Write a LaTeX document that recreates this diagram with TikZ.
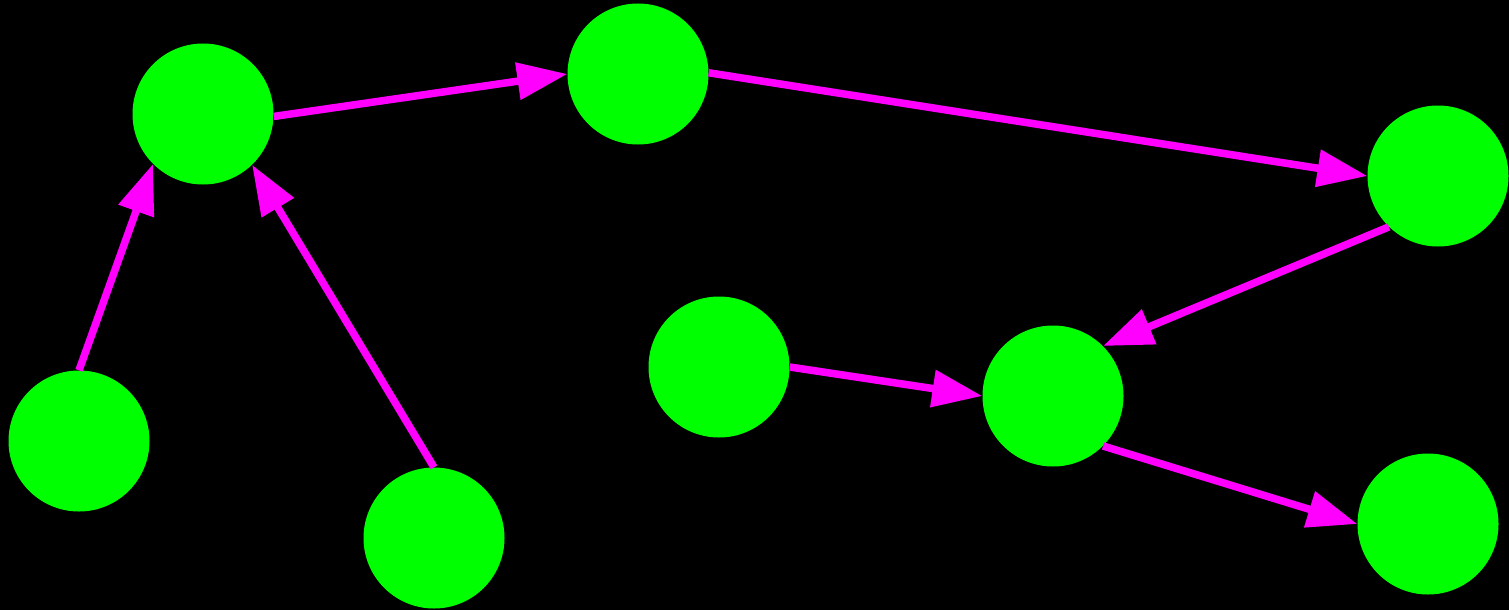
\documentclass[tikz,border=0pt]{standalone}
\usetikzlibrary{arrows.meta}
\definecolor{ngreen}{HTML}{00FF00}
\definecolor{emag}{HTML}{FF00FF}
\begin{document}
\begin{tikzpicture}[x=1pt,y=-1pt,
  vertex/.style={circle,fill=ngreen,draw=none,minimum size=141pt,inner sep=0pt},
  edge/.style={draw=emag,line width=7.5pt,-{Triangle[length=50pt,width=36pt,fill=emag]}}]
\fill[black] (0,0) rectangle (1509,610);
\useasboundingbox (0,0) rectangle (1509,610);
\node[vertex] (a) at (203,114) {};
\node[vertex] (b) at (638,74) {};
\node[vertex] (c) at (1438,176) {};
\node[vertex] (d) at (79,441) {};
\node[vertex] (e) at (434,538) {};
\node[vertex] (f) at (719,367) {};
\node[vertex] (g) at (1053,396) {};
\node[vertex] (h) at (1428,524) {};
\draw[edge] (a.-2) -- (b.180);
\draw[edge] (b.1) -- (c.180);
\draw[edge] (c.226) -- (g.45);
\draw[edge] (d.90) -- (a.225.6);
\draw[edge] (e.90) -- (a.314.5);
\draw[edge] (f.0) -- (g.180);
\draw[edge] (g.-45) -- (h.180);
\end{tikzpicture}
\end{document}
